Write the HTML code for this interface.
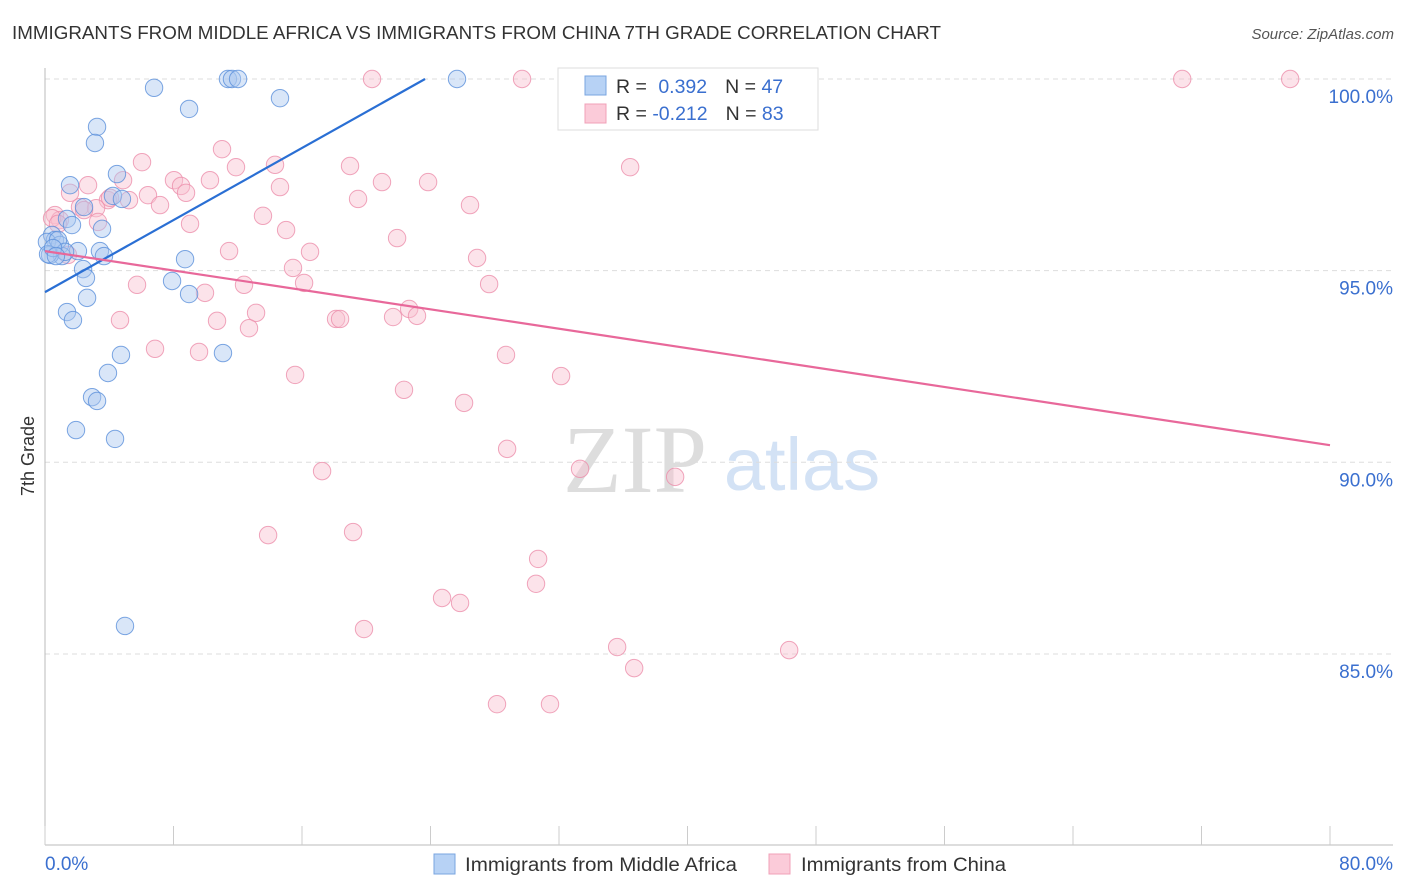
<!DOCTYPE html>
<html><head><meta charset="utf-8"><style>
body{margin:0;background:#fff;font-family:"Liberation Sans",sans-serif}
svg{display:block}
</style></head><body>
<svg id="chart" width="1406" height="892" xmlns="http://www.w3.org/2000/svg">
<text x="12" y="39" font-size="18.5" fill="#333" textLength="929" lengthAdjust="spacingAndGlyphs">IMMIGRANTS FROM MIDDLE AFRICA VS IMMIGRANTS FROM CHINA 7TH GRADE CORRELATION CHART</text>
<text x="1394" y="39" font-size="15" fill="#555" font-style="italic" text-anchor="end">Source: ZipAtlas.com</text>
<g>
<text x="635" y="492" font-size="96" fill="#ddd" font-family="Liberation Serif,serif" text-anchor="middle">ZIP</text>
<text x="802" y="490" font-size="74" fill="#d3e2f5" text-anchor="middle">atlas</text>
</g>
<g id="grid"></g>
<g id="axes"></g>
<g id="pts"></g>
<g id="lines"></g>
<text transform="translate(34,456) rotate(-90)" font-size="18" fill="#333" text-anchor="middle">7th Grade</text>
<g>
<rect x="558" y="68" width="260" height="62" fill="#fff" stroke="#ddd"/>
<rect x="585" y="76" width="21" height="19" fill="#b7d2f5" stroke="#7aa5e0"/>
<rect x="585" y="104" width="21" height="19" fill="#fbcbd9" stroke="#f0a0b8"/>
<text x="616" y="93" font-size="19.5" fill="#333">R = <tspan fill="#3a6fcf" dx="6">0.392</tspan><tspan fill="#333" dx="18">N = </tspan><tspan fill="#3a6fcf">47</tspan></text>
<text x="616" y="120" font-size="19.5" fill="#333">R = <tspan fill="#3a6fcf">-0.212</tspan><tspan fill="#333" dx="18">N = </tspan><tspan fill="#3a6fcf">83</tspan></text>
</g>
<g>
<rect x="434" y="854" width="21" height="20" fill="#b7d2f5" stroke="#7aa5e0"/>
<text x="465" y="871" font-size="19" fill="#333" textLength="272" lengthAdjust="spacingAndGlyphs">Immigrants from Middle Africa</text>
<rect x="769" y="854" width="21" height="20" fill="#fbcbd9" stroke="#f0a0b8"/>
<text x="801" y="871" font-size="19" fill="#333" textLength="205" lengthAdjust="spacingAndGlyphs">Immigrants from China</text>
</g>
</svg>
<script>
const blueX=[6.79,11.39,11.64,12.02,25.65,14.63,8.97,3.24,3.11,4.48,1.56,4.23,4.79,2.43,1.37,1.68,3.55,0.44,0.62,0.12,0.93,2.05,3.42,3.67,1.06,0.31,8.72,2.37,2.55,7.91,2.62,8.97,1.37,1.74,4.73,11.08,3.92,2.93,3.24,1.93,4.36,4.98,0.81,1.25,0.19,0.50,0.68];
const blueY=[99.77,100,100,100,100,99.5,99.22,98.75,98.33,97.52,97.23,96.95,96.87,96.66,96.35,96.19,96.09,95.93,95.8,95.75,95.67,95.51,95.51,95.38,95.38,95.41,95.3,95.04,94.81,94.73,94.29,94.39,93.92,93.71,92.8,92.85,92.33,91.7,91.6,90.84,90.61,85.73,95.8,95.49,95.43,95.59,95.38];
const pinkX=[20.36,29.7,32.94,40.78,70.8,77.52,11.02,6.04,11.89,14.32,18.99,36.43,8.03,8.47,4.86,2.68,10.27,20.98,23.85,14.63,8.78,6.41,1.56,5.23,3.92,7.16,19.49,26.46,2.18,3.18,0.62,0.93,13.57,9.03,3.3,15.01,21.92,11.46,16.5,26.9,1.43,15.44,5.73,12.39,16.13,9.96,27.65,4.67,10.71,13.14,18.12,18.37,12.7,21.67,22.67,23.16,6.85,9.59,28.7,15.57,32.13,22.35,26.09,28.77,17.25,33.31,39.23,13.89,19.18,30.7,30.57,24.72,25.84,19.86,35.62,46.33,36.68,28.14,31.44,0.44,0.81,2.43,4.05];
const pinkY=[100,100,100,100,100,100,98.17,97.83,97.7,97.76,97.73,97.7,97.36,97.21,97.36,97.23,97.36,97.31,97.31,97.18,97.03,96.97,97.03,96.84,96.84,96.71,96.87,96.71,96.66,96.63,96.45,96.32,96.43,96.22,96.27,96.06,95.85,95.51,95.49,95.33,95.41,95.07,94.63,94.63,94.68,94.42,94.65,93.71,93.69,93.9,93.74,93.74,93.5,93.79,94,93.82,92.96,92.88,92.8,92.28,92.25,91.89,91.55,90.35,89.77,89.83,89.62,88.1,88.18,87.48,86.83,86.46,86.33,85.65,85.18,85.1,84.63,83.69,83.69,96.37,96.22,96.58,96.9];
const blueLine=[94.44,0.235,0,23.66];
const pinkLine=[95.51,-0.0633,0,80];
const yTicks=[100,95,90,85];
const yTickLabels=["100.0%","95.0%","90.0%","85.0%"];
const xTicks=[0,8,16,24,32,40,48,56,64,72,80];
const NS="http://www.w3.org/2000/svg";
const sx=v=>45+v*(1285/80);
const sy=v=>79+(100-v)*38.33;
function mk(t,a,p){const e=document.createElementNS(NS,t);for(const k in a)e.setAttribute(k,a[k]);document.getElementById(p).appendChild(e);return e;}
yTicks.forEach((t,i)=>{
 const l=mk('line',{x1:45,x2:1393,y1:sy(t),y2:sy(t),stroke:'#ddd','stroke-dasharray':'5,4'},'grid');
 
 
 const tx=mk('text',{x:1393,y:sy(t)+24,'font-size':19,fill:'#3a6fcf','text-anchor':'end'},'grid');
 tx.textContent=yTickLabels[i];
 
 
});
let a=mk('line',{x1:45,x2:45,y1:68,y2:845,stroke:'#bbb'},'axes');


a=mk('line',{x1:45,x2:1393,y1:845,y2:845,stroke:'#bbb'},'axes');


xTicks.forEach(t=>{const l=mk('line',{x1:sx(t),x2:sx(t),y1:826,y2:845,stroke:'#ccc'},'axes');
 
 });
let t=mk('text',{x:45,y:870,'font-size':19,fill:'#3a6fcf'},'axes');t.textContent='0.0%';


t=mk('text',{x:1393,y:870,'font-size':19,fill:'#3a6fcf','text-anchor':'end'},'axes');t.textContent='80.0%';


function pts(X,Y,f,s,n){X.forEach((x,i)=>{const c=mk('circle',{cx:sx(x),cy:sy(Y[i]),r:8.7,fill:f,'fill-opacity':0.45,stroke:s,'stroke-opacity':0.8,'stroke-width':1},'pts');
 
 });}
pts(pinkX,pinkY,'#f8c0d0','#ec8fab','china-point');
pts(blueX,blueY,'#aac8f0','#5b90db','middle-africa-point');
function ln(p,c,n){const l=mk('line',{x1:sx(p[2]),y1:sy(p[0]+p[1]*p[2]),x2:sx(p[3]),y2:sy(p[0]+p[1]*p[3]),stroke:c,'stroke-width':2.2},'lines');
 
 }
ln(blueLine,'#2a6fd4','middle-africa-trendline');
ln(pinkLine,'#e8689a','china-trendline');
</script>
</body></html>
